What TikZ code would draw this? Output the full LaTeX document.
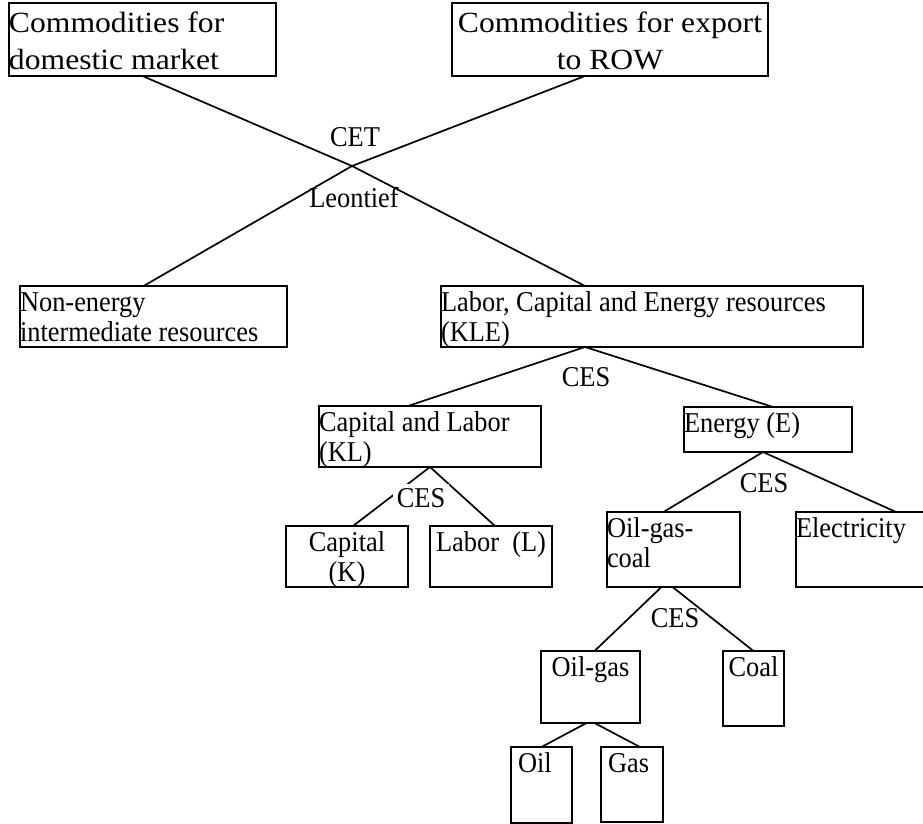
\documentclass[tikz,border=0pt]{standalone}
\usepackage{fontspec}
\setmainfont{Liberation Serif}
\newfontfamily\narrowserif[FakeStretch=0.92]{Liberation Serif}
\newfontfamily\wideserif[FakeStretch=1.08]{Liberation Serif}
\usepackage{tikz}
\usetikzlibrary{calc}

% box contents: width, height, alignment, text
\newcommand{\cellbox}[4]{\parbox[t][#2][t]{#1}{\narrowserif\fontsize{28.7}{30}\selectfont#3\rule{0pt}{25pt}#4}}
\newcommand{\headbox}[4]{\parbox[t][#2][t]{#1}{\wideserif\fontsize{29.3}{36.5}\selectfont#3\rule{0pt}{30pt}#4}}

\tikzset{
  cell/.style={draw, line width=1.9pt, inner sep=0pt, outer sep=0pt, anchor=north west},
  link/.style={line width=1.7pt},
  elast/.style={inner sep=0pt, font=\narrowserif\fontsize{28.7}{30}\selectfont}
}

\begin{document}
\begin{tikzpicture}[x=1pt,y=-1pt]
\useasboundingbox (0,0) rectangle (923,824);
\clip (0,0) rectangle (923,824);

% Output level
\node[cell] (dom) at (9,3) {\headbox{267pt}{73pt}{\raggedright}{Commodities for\\domestic market}};
\node[cell] (exp) at (452,3) {\headbox{316pt}{73pt}{\centering}{Commodities for export\\to ROW}};

% Input level
\node[cell] (nonen) at (20,286) {\cellbox{267pt}{61pt}{\raggedright}{Non-energy\\intermediate resources}};
\node[cell] (kle) at (441,286) {\cellbox{422pt}{61pt}{\raggedright}{Labor, Capital and Energy resources\\(KLE)}};

% KLE nest
\node[cell] (kl) at (319,406) {\cellbox{222pt}{61pt}{\raggedright}{Capital and Labor\\(KL)}};
\node[cell] (en) at (684,407) {\cellbox{168pt}{45pt}{\raggedright}{Energy (E)}};

% KL nest
\node[cell] (cap) at (286,526) {\cellbox{122pt}{61pt}{\centering}{Capital\\(K)}};
\node[cell] (lab) at (430,526) {\cellbox{122pt}{61pt}{\centering}{Labor~ (L)}};

% Energy nest
\node[cell] (ogc) at (607,512) {\cellbox{133pt}{75pt}{\raggedright}{Oil-gas-\\coal}};
\node[cell] (elec) at (796,512) {\cellbox{140pt}{75pt}{\raggedright}{Electricity}};

% Fossil nest
\node[cell] (og) at (541,651) {\cellbox{99pt}{72pt}{\centering}{Oil-gas}};
\node[cell] (coal) at (723,651) {\cellbox{61pt}{75pt}{\centering}{Coal}};
\node[cell] (oil) at (511,747) {\cellbox{61pt}{76pt}{\raggedright}{\hspace*{7pt}Oil}};
\node[cell] (gas) at (601,747) {\cellbox{62pt}{75pt}{\raggedright}{\hspace*{7pt}Gas}};

% Crossing point of CET and Leontief
\coordinate (cross) at (352,166);

% Drawing lines
\draw[link] (dom.south) -- (cross) -- ([xshift=-67pt]kle.north);
\draw[link] ([xshift=-25pt]exp.south) -- (cross) -- ([xshift=-10pt]nonen.north);
\draw[link] ([xshift=-22pt]kl.north) -- ([xshift=-67pt]kle.south) -- ([xshift=5pt]en.north);
\draw[link] ([xshift=6pt]cap.north) -- (kl.south) -- ([xshift=4pt]lab.north);
\draw[link] ([xshift=-10pt]ogc.north) -- ([xshift=-5pt]en.south) -- ([xshift=30pt]elec.north);
\draw[link] ([xshift=-12pt]ogc.south) -- ([xshift=4pt]og.north);
\draw[link] ([xshift=-1pt]ogc.south) -- (coal.north);
\draw[link] ([xshift=-4pt]og.south) -- (oil.north);
\draw[link] ([xshift=4pt]og.south) -- ([xshift=8pt]gas.north);

% Marking elasticities
\node[elast] (cet) at (355,137) {CET};
\node[elast] (leon) at (354,198) {Leontief};
\node[elast] (cesk) at (586,377) {CES};
\node[elast, fill=white, inner sep=4pt] (cesl) at (421,498) {CES};
\node[elast] (cese) at (764,483) {CES};
\node[elast] (cesf) at (675,618) {CES};
\end{tikzpicture}
\end{document}
